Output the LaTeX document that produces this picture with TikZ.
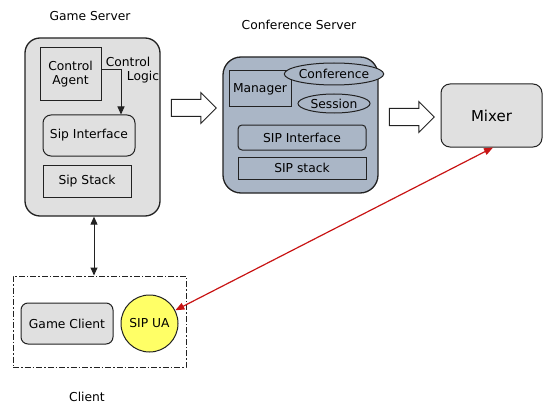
\documentclass[tikz,border=0pt]{standalone}
\usepackage{fontspec}
\setmainfont{DejaVu Sans}
\usetikzlibrary{shapes.geometric,shapes.arrows,arrows.meta}
\definecolor{boxgray}{RGB}{224,224,224}
\definecolor{confblue}{RGB}{170,182,198}
\definecolor{uayellow}{RGB}{255,255,102}
\definecolor{linkred}{RGB}{200,20,20}
\definecolor{edge}{RGB}{34,34,34}
\tikzset{
  every node/.style={font=\fontsize{12.3}{14}\selectfont, text=black, inner sep=0pt},
  block/.style={draw=edge, line width=1pt, fill=#1},
  block/.default=boxgray,
  title/.style={font=\fontsize{12.3}{14}\selectfont},
  oval/.style={ellipse, draw=edge, line width=1pt, fill=confblue},
  hollow/.style={single arrow, draw=edge, line width=1pt, fill=white,
    inner ysep=8pt, inner xsep=0pt, single arrow head extend=7pt,
    single arrow tip angle=90, minimum height=45pt},
  tip/.style={-{Triangle[length=8pt,width=7pt]}},
}
\begin{document}
\begin{tikzpicture}[x=1pt,y=-1pt]
\useasboundingbox (0,0) rectangle (544,404);

% Game server
\node[title] (gstitle) at (90,16) {Game Server};
\node[block, line width=1.3pt, rounded corners=15pt, minimum width=135pt, minimum height=178pt] (gs) at (92.5,127) {};
\node[block, minimum width=61pt, minimum height=53pt, align=center] (agent) at (70.5,74.5) {Control\\Agent};
\node[block, rounded corners=8pt, minimum width=92pt, minimum height=41pt] (sipif) at (89,135.5) {Sip Interface};
\node[block, minimum width=88pt, minimum height=32pt] (sipstack) at (87,181) {Sip Stack};
\node (logic1) at (128,62) {Control};
\node (logic2) at (143,77) {Logic};
\draw[edge, line width=1pt, tip] ([yshift=4.5pt]agent.east) -| ([xshift=32pt]sipif.north);

% Conference server
\node[title] (cstitle) at (299,25) {Conference Server};
\node[block=confblue, line width=1.3pt, rounded corners=18pt, minimum width=155pt, minimum height=136pt] (cs) at (300.5,125) {};
\node[block=confblue, minimum width=62pt, minimum height=36pt] (manager) at (260,89) {Manager};
\node[oval, minimum width=73pt, minimum height=22pt] (conf) at (334,74) {Conference};
\node[oval, minimum width=72pt, minimum height=19pt] (session) at (334,103.5) {Session};
\node[block=confblue, rounded corners=4pt, minimum width=128pt, minimum height=25pt] (csif) at (302,137.5) {SIP Interface};
\node[block=confblue, minimum width=128pt, minimum height=22pt] (csstack) at (302,168) {SIP stack};

% Mixer
\node[block, rounded corners=9pt, minimum width=101pt, minimum height=63pt,
      font=\fontsize{15}{17}\selectfont] (mixer) at (491.5,115.5) {Mixer};

% Flow arrows between the servers
\node[hollow] (flow1) at (189.5,108) {};
\node[hollow] (flow2) at (407.5,117) {};

% Client
\node[draw=edge, line width=1pt, dash pattern=on 6pt off 2pt on 1.5pt off 2pt,
      minimum width=173pt, minimum height=91pt] (client) at (99.5,321.5) {};
\node[block, rounded corners=7pt, minimum width=92pt, minimum height=41pt] (gameclient) at (67,323.5) {Game Client};
\node[circle, draw=edge, line width=1pt, fill=uayellow, minimum size=57pt,
      font=\fontsize{12.3}{14}\selectfont] (ua) at (149.5,323.5) {SIP UA};
\node[title] (clienttitle) at (87,397) {Client};

% Connectors
\draw[edge, line width=1pt, {Triangle[length=8pt,width=7pt]}-{Triangle[length=8pt,width=7pt]}]
  ([xshift=1.5pt]gs.south) -- ([xshift=1.5pt]gs.south |- client.north);
\draw[linkred, line width=1.2pt, {Triangle[length=9pt,width=7pt]}-{Triangle[length=9pt,width=7pt]}]
  (ua) -- ([xshift=1.5pt]mixer.south);
\end{tikzpicture}
\end{document}
